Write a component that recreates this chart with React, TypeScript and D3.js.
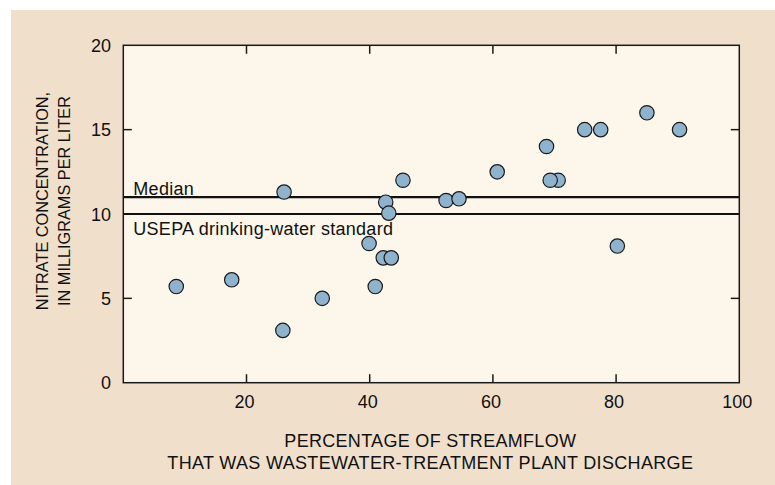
import React from "react";
import * as d3 from "d3";

// percent of streamflow that was WWTP discharge
const pctDischarge = [8.6, 17.6, 25.9, 26.1, 32.3, 39.9, 40.9, 42.2, 43.5, 42.6, 43.1, 45.4, 52.4, 54.5, 60.7, 68.7, 70.6, 69.3, 74.9, 77.5, 80.2, 85.0, 90.3];
// nitrate, mg/L
const nitrate = [5.7, 6.1, 3.1, 11.3, 5.0, 8.25, 5.7, 7.4, 7.4, 10.7, 10.05, 12.0, 10.8, 10.9, 12.5, 14.0, 12.0, 12.0, 15.0, 15.0, 8.1, 16.0, 15.0];

const xTicks = [20, 40, 60, 80, 100];
const yTicks = [0, 5, 10, 15, 20];
const refLines = [
  { name: "Median", value: 11 },
  { name: "USEPA drinking-water standard", value: 10 },
];

const W = 775;
const H = 485;
const left = 123.3, right = 739.3, top = 45.3, bottom = 382.7;
const font = "'Liberation Sans', Arial, Helvetica, sans-serif";

const App = () => {
  const x = d3.scaleLinear().domain([0, 100]).range([left, right]);
  const y = d3.scaleLinear().domain([0, 20]).range([bottom, top]);
  const tick = 8.5;

  return (
    <svg width={W} height={H} style={{ position: "absolute", left: 0, top: 0 }} fontFamily={font}>
      <rect x={0} y={0} width={W} height={H} fill="#ffffff" />
      <rect x={11} y={10} width={W - 11} height={H - 10} fill="#f0dfcb" />
      <rect x={left} y={top} width={right - left} height={bottom - top} fill="#fdf6ea" />

      {/* inward ticks on all four sides */}
      {xTicks.filter((t) => t < 100).map((t) => (
        <g key={"xt" + t} stroke="#1a1a1a" strokeWidth={1.5}>
          <line x1={x(t)} x2={x(t)} y1={bottom} y2={bottom - tick} />
          <line x1={x(t)} x2={x(t)} y1={top} y2={top + tick} />
        </g>
      ))}
      {yTicks.filter((t) => t > 0 && t < 20).map((t) => (
        <g key={"yt" + t} stroke="#1a1a1a" strokeWidth={1.5}>
          <line x1={left} x2={left + tick} y1={y(t)} y2={y(t)} />
          <line x1={right} x2={right - tick} y1={y(t)} y2={y(t)} />
        </g>
      ))}

      {refLines.map((r) => (
        <line key={r.name} x1={left} x2={right} y1={y(r.value)} y2={y(r.value)} stroke="#111" strokeWidth={2.2} />
      ))}
      <text x={left + 10} y={y(refLines[0].value) - 2} fontSize={18} letterSpacing={0.3} fill="#111">{refLines[0].name}</text>
      <text x={left + 10} y={y(refLines[1].value) + 20.5} fontSize={18} letterSpacing={0.28} fill="#111">{refLines[1].name}</text>

      <rect x={left} y={top} width={right - left} height={bottom - top} fill="none" stroke="#1a1a1a" strokeWidth={1.5} />

      {pctDischarge.map((p, i) => (
        <circle key={i} cx={x(p)} cy={y(nitrate[i])} r={7.2} fill="#8fb3cc" stroke="#1a1a1a" strokeWidth={1.2} />
      ))}

      {xTicks.map((t) => (
        <text key={"xl" + t} x={x(t) - 2} y={408} textAnchor="middle" fontSize={18} fill="#111">{t}</text>
      ))}
      {yTicks.map((t) => (
        <text key={"yl" + t} x={111} y={y(t) + 6.5} textAnchor="end" fontSize={18} fill="#111">{t}</text>
      ))}

      <text x={(left + right) / 2 - 1} y={446.5} textAnchor="middle" fontSize={18} letterSpacing={0.3} fill="#111">PERCENTAGE OF STREAMFLOW</text>
      <text x={(left + right) / 2 - 1} y={468.5} textAnchor="middle" fontSize={18} letterSpacing={0.33} fill="#111">THAT WAS WASTEWATER-TREATMENT PLANT DISCHARGE</text>

      <g transform="translate(48,201) rotate(-90)">
        <text x={0} y={0} textAnchor="middle" fontSize={16.3} fill="#111">NITRATE CONCENTRATION,</text>
        <text x={0} y={22} textAnchor="middle" fontSize={16.3} fill="#111">IN MILLIGRAMS PER LITER</text>
      </g>
    </svg>
  );
};

export default App;
